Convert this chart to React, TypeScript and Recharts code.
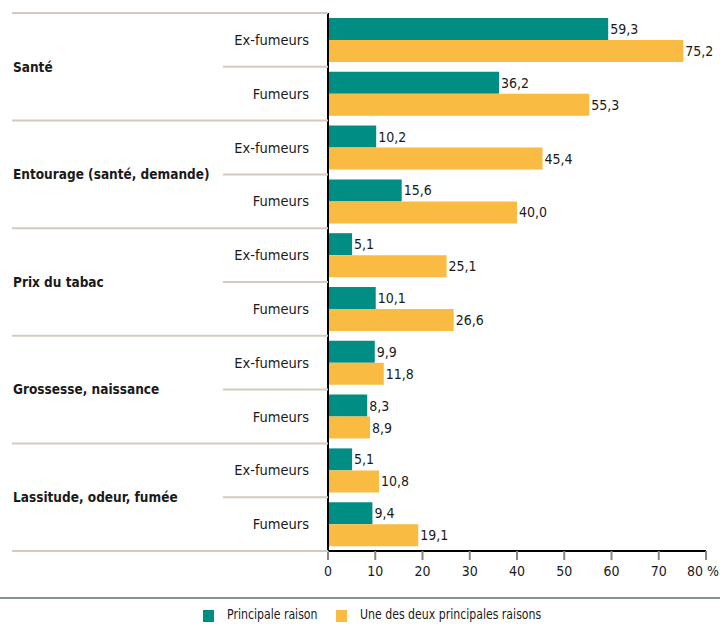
import React from "react";
import { BarChart, Bar, XAxis, YAxis, LabelList, Legend } from "recharts";

const categories = [
  "Santé",
  "Entourage (santé, demande)",
  "Prix du tabac",
  "Grossesse, naissance",
  "Lassitude, odeur, fumée",
];
const groups = ["Ex-fumeurs", "Fumeurs"];
const principale = [59.3, 36.2, 10.2, 15.6, 5.1, 10.1, 9.9, 8.3, 5.1, 9.4];
const uneDesDeux = [75.2, 55.3, 45.4, 40.0, 25.1, 26.6, 11.8, 8.9, 10.8, 19.1];
const xTicks = [0, 10, 20, 30, 40, 50, 60, 70, 80];
const seriesNames = ["Principale raison", "Une des deux principales raisons"];

const TEAL = "#008d84";
const YELLOW = "#f9bb42";
const SEP = "#d3cbbd";
const FONT = "'DejaVu Sans Condensed', 'DejaVu Sans', sans-serif";
const TS: any = { fontStretch: "condensed" };

const data = principale.map((v, i) => ({
  id: String(i),
  cat: categories[Math.floor(i / 2)],
  grp: groups[i % 2],
  a: v,
  b: uneDesDeux[i],
}));

const PLOT_TOP = 13;
const PLOT_BOTTOM = 551;
const ROW_H = (PLOT_BOTTOM - PLOT_TOP) / data.length;
const AXIS_X = 328;

const YTick = (props: any) => {
  const { y, payload } = props;
  const i = Number(payload.value);
  const d = data[i];
  const top = y - ROW_H / 2;
  const els: any[] = [];
  if (i % 2 === 0) {
    els.push(<line key="l" x1={12} x2={AXIS_X} y1={top} y2={top} stroke={SEP} strokeWidth={2} />);
  } else {
    els.push(<line key="l" x1={223} x2={AXIS_X} y1={top} y2={top} stroke={SEP} strokeWidth={2} />);
    els.push(
      <text key="c" x={13} y={top} dy="0.35em" fontSize={13.5} fontWeight="bold" fill="#1a1a1a" fontFamily={FONT} style={TS}>
        {d.cat}
      </text>
    );
  }
  if (i === data.length - 1) {
    els.push(<line key="b" x1={12} x2={AXIS_X} y1={y + ROW_H / 2} y2={y + ROW_H / 2} stroke={SEP} strokeWidth={2} />);
  }
  els.push(
    <text key="g" x={309} y={y} dy="0.35em" textAnchor="end" fontSize={14.5} fill="#1a1a1a" fontFamily={FONT} style={TS}>
      {d.grp}
    </text>
  );
  return <g>{els}</g>;
};

const XTick = (props: any) => {
  const { x, y, payload, index } = props;
  const last = Number(payload.value) === xTicks[xTicks.length - 1] || index === xTicks.length - 1;
  return (
    <text x={last ? x + 13 : x} y={y + 14} textAnchor={last ? "end" : "middle"} fontSize={14} fill="#1a1a1a" fontFamily={FONT} style={TS}>
      {last ? `${payload.value} %` : String(payload.value)}
    </text>
  );
};

const fmt = (v: any) => Number(v).toFixed(1).replace(".", ",");

const LegendContent = () => (
  <div style={{ position: "relative", height: 44, width: 720, fontFamily: FONT, fontStretch: "condensed" }}>
    <div style={{ position: "absolute", left: 0, top: 16, width: 720, height: 2, background: "#7d978e" }} />
    <div style={{ position: "absolute", left: 203, top: 29, width: 11, height: 12, background: TEAL }} />
    <div style={{ position: "absolute", left: 227, top: 25, fontSize: 14.5, color: "#1a1a1a", whiteSpace: "nowrap", transform: "scaleX(0.84)", transformOrigin: "left center" }}>{seriesNames[0]}</div>
    <div style={{ position: "absolute", left: 336, top: 29, width: 11, height: 12, background: YELLOW }} />
    <div style={{ position: "absolute", left: 360, top: 25, fontSize: 14.5, color: "#1a1a1a", whiteSpace: "nowrap", transform: "scaleX(0.84)", transformOrigin: "left center" }}>{seriesNames[1]}</div>
  </div>
);

export default function App() {
  return (
    <div style={{ position: "absolute", left: 0, top: 0, width: 720, height: 625, background: "#fff" }}>
      <BarChart
        width={720}
        height={625}
        data={data}
        layout="vertical"
        margin={{ top: PLOT_TOP, right: 14, bottom: 0, left: 0 }}
        barGap={0}
      >
        <XAxis
          type="number"
          domain={[0, 80]}
          ticks={xTicks}
          height={30}
          axisLine={{ stroke: "#000", strokeWidth: 2 }}
          tickLine={{ stroke: "#888", strokeWidth: 2 }}
          tickSize={9}
          tick={(p: any) => <XTick {...p} />}
          interval={0}
        />
        <YAxis
          type="category"
          dataKey="id"
          width={AXIS_X}
          axisLine={{ stroke: "#000", strokeWidth: 2 }}
          tickLine={false}
          tick={(p: any) => <YTick {...p} />}
          interval={0}
        />
        <Legend verticalAlign="bottom" height={44} content={() => <LegendContent />} wrapperStyle={{ left: 0, width: 720 }} />
        <Bar dataKey="a" name={seriesNames[0]} fill={TEAL} barSize={22} isAnimationActive={false}>
          <LabelList dataKey="a" position="right" offset={2} formatter={fmt} fontSize={14} fill="#1a1a1a" fontFamily={FONT} style={TS} />
        </Bar>
        <Bar dataKey="b" name={seriesNames[1]} fill={YELLOW} barSize={22} isAnimationActive={false}>
          <LabelList dataKey="b" position="right" offset={2} formatter={fmt} fontSize={14} fill="#1a1a1a" fontFamily={FONT} style={TS} />
        </Bar>
      </BarChart>
    </div>
  );
}
